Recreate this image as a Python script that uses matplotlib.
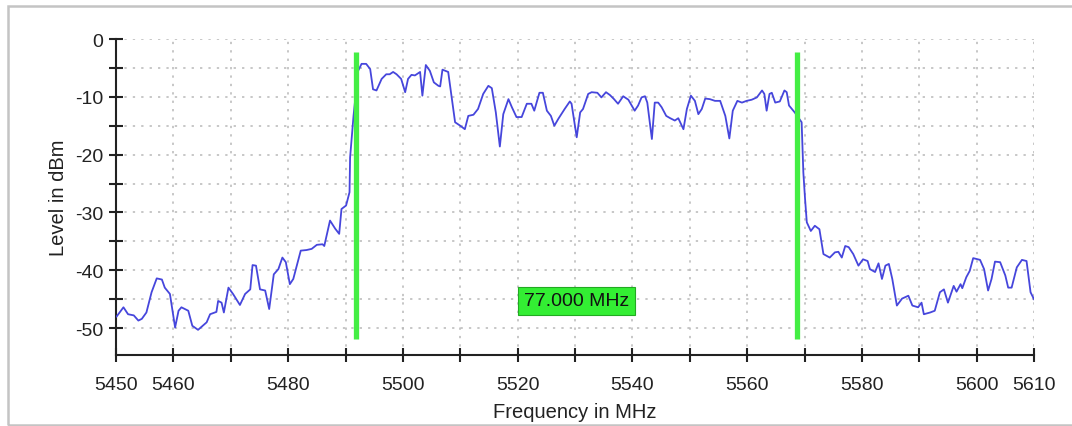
import numpy as np
import matplotlib
matplotlib.use('Agg')
import matplotlib.pyplot as plt
from matplotlib.patches import Rectangle

plt.rcParams['font.family'] = ['Liberation Sans', 'DejaVu Sans']
plt.rcParams['axes.unicode_minus'] = False

# spectrum trace (MHz, dBm)
freq = [5450.1, 5451.3, 5452.1, 5453.1, 5453.9, 5454.5, 5455.3, 5456.2, 5457.1, 5458.0,
        5458.5, 5459.4, 5460.3, 5460.9, 5461.4, 5462.6, 5463.3, 5464.3, 5465.1, 5465.8,
        5466.4, 5467.5, 5467.8, 5468.4, 5468.8, 5469.6, 5470.4, 5471.6, 5472.5, 5473.4,
        5473.8, 5474.4, 5475.1, 5476.0, 5476.7, 5477.5, 5478.3, 5479.0, 5479.6, 5480.3,
        5480.9, 5482.2, 5483.2, 5484.1, 5485.0, 5486.0, 5486.3, 5487.3, 5488.2, 5488.9,
        5489.3, 5490.1, 5490.7, 5490.8, 5491.4, 5492.2, 5492.8, 5493.6, 5494.3, 5494.8,
        5495.4, 5496.3, 5497.1, 5497.7, 5498.3, 5498.9, 5499.7, 5500.4, 5500.9, 5501.5,
        5502.1, 5503.0, 5503.4, 5504.0, 5504.7, 5505.4, 5506.2, 5506.5, 5506.9, 5507.9,
        5509.1, 5510.0, 5510.8, 5511.4, 5512.3, 5513.1, 5514.0, 5514.9, 5515.5, 5516.2,
        5516.9, 5517.5, 5518.4, 5519.0, 5519.8, 5520.7, 5521.6, 5522.4, 5522.9, 5523.8,
        5524.4, 5525.1, 5525.8, 5526.4, 5527.1, 5528.2, 5529.1, 5529.4, 5530.3, 5530.9,
        5531.4, 5532.3, 5532.9, 5533.9, 5534.6, 5535.4, 5536.1, 5536.8, 5537.5, 5538.4,
        5539.3, 5540.4, 5541.0, 5541.6, 5542.2, 5542.6, 5543.4, 5543.9, 5544.5, 5545.1,
        5545.9, 5546.6, 5547.4, 5548.0, 5548.9, 5549.5, 5550.2, 5550.9, 5551.5, 5552.1,
        5552.7, 5553.5, 5554.4, 5555.3, 5556.2, 5556.9, 5557.5, 5558.3, 5559.1, 5559.9,
        5560.8, 5561.7, 5562.6, 5563.0, 5563.4, 5563.9, 5564.3, 5564.9, 5565.7, 5566.5,
        5566.9, 5567.3, 5568.3, 5569.5, 5569.8, 5570.1, 5570.4, 5571.1, 5571.8, 5572.6,
        5573.3, 5574.4, 5575.3, 5575.9, 5576.5, 5577.1, 5577.7, 5578.5, 5579.4, 5580.2,
        5581.0, 5581.4, 5582.3, 5582.9, 5583.5, 5584.1, 5584.7, 5585.3, 5586.1, 5587.0,
        5588.1, 5588.8, 5589.8, 5590.4, 5590.8, 5591.9, 5592.7, 5593.6, 5594.3, 5595.0,
        5596.0, 5596.5, 5597.2, 5597.5, 5598.2, 5598.8, 5599.4, 5600.6, 5601.3, 5602.0,
        5602.6, 5603.2, 5604.1, 5605.0, 5605.5, 5606.1, 5607.0, 5607.9, 5608.7, 5609.4,
        5610.0]
level = [-48.0, -46.4, -47.6, -47.8, -48.7, -48.4, -47.3, -43.8, -41.4, -41.6,
         -43.0, -44.1, -49.9, -47.0, -46.4, -47.0, -49.6, -50.3, -49.6, -49.0,
         -47.6, -47.2, -45.3, -45.6, -47.3, -43.0, -44.1, -46.0, -44.1, -43.3,
         -39.1, -39.2, -43.3, -43.5, -46.7, -40.7, -39.8, -37.8, -38.6, -42.4,
         -41.5, -36.6, -36.5, -36.3, -35.6, -35.5, -35.8, -31.4, -32.8, -33.7,
         -29.4, -28.8, -26.5, -20.5, -13.3, -5.5, -4.3, -4.3, -5.2, -8.7,
         -8.9, -6.9, -6.1, -6.1, -5.7, -6.1, -6.9, -9.2, -6.9, -6.2,
         -6.3, -5.7, -9.8, -4.5, -5.5, -7.5, -8.1, -8.2, -5.3, -5.7,
         -14.4, -15.0, -15.6, -13.3, -13.1, -12.1, -9.5, -8.1, -8.5, -12.7,
         -18.6, -13.0, -10.4, -11.8, -13.5, -13.5, -11.2, -11.2, -12.4, -9.3,
         -9.3, -12.4, -13.3, -15.0, -13.8, -12.1, -10.8, -11.2, -17.0, -12.7,
         -12.1, -9.5, -9.2, -9.3, -10.1, -9.2, -9.7, -10.4, -11.2, -9.9,
         -10.5, -12.4, -11.5, -10.1, -9.9, -11.0, -17.3, -11.0, -11.0, -11.8,
         -13.3, -13.7, -14.1, -13.7, -15.6, -12.1, -9.8, -10.7, -13.0, -12.1,
         -10.3, -10.4, -10.7, -10.7, -13.3, -17.2, -12.4, -10.7, -11.0, -10.7,
         -10.5, -10.1, -8.9, -9.5, -12.4, -9.5, -9.3, -11.0, -10.8, -8.9,
         -9.2, -11.5, -12.7, -14.4, -23.1, -27.7, -31.7, -33.2, -32.3, -32.9,
         -37.2, -37.8, -36.9, -36.8, -37.8, -35.8, -36.0, -37.2, -39.2, -38.1,
         -38.4, -39.8, -40.3, -38.8, -41.5, -39.2, -38.9, -41.5, -46.1, -44.9,
         -44.4, -46.1, -46.4, -45.6, -47.6, -47.3, -47.0, -43.8, -43.3, -45.6,
         -42.7, -43.7, -42.4, -43.1, -41.2, -40.1, -37.9, -38.2, -39.8, -43.5,
         -41.5, -38.5, -38.6, -40.9, -43.0, -43.0, -39.5, -38.2, -38.4, -43.8,
         -45.0]

# markers
marker_freqs = [5491.75, 5568.75]
marker_top = -2.2
marker_bottom = -51.9
bandwidth_label = '77.000 MHz'
label_pos = (5530.3, -45.3)

xtick_vals = list(range(5450, 5611, 10))
xtick_labels = ['5450', '5460', '', '5480', '', '5500', '', '5520', '', '5540', '',
                '5560', '', '5580', '', '5600', '5610']

fig = plt.figure(figsize=(10.72, 4.27), dpi=100)
ax = fig.add_axes([116 / 1072, 1 - 355.7 / 427, (1034 - 116) / 1072, (355.7 - 40) / 427])

# gray frame around the plot
fig.patches.append(Rectangle((8 / 1072, 1 - 426 / 427), 1.1, (426 - 7) / 427,
                             transform=fig.transFigure, fill=False,
                             edgecolor='#c4c4c4', linewidth=1.8))

ax.plot(freq, level, color='#4646dc', linewidth=1.3, zorder=3)

for mf in marker_freqs:
    ax.plot([mf, mf], [marker_bottom, marker_top], color='#44ee44', linewidth=3.8,
            solid_capstyle='butt', zorder=4)

ax.text(label_pos[0], label_pos[1], bandwidth_label, fontsize=14, color='#111111',
        ha='center', va='center', zorder=5,
        bbox=dict(boxstyle='square,pad=0.3', facecolor='#33ee33', edgecolor='#22aa22',
                  linewidth=0.8))

ax.set_xlim(5450, 5610)
ax.set_ylim(-54.6, 0)

ax.set_xticks(xtick_vals)
ax.set_xticklabels(xtick_labels)
ax.set_yticks([0, -10, -20, -30, -40, -50])
ax.set_yticks([-5, -15, -25, -35, -45], minor=True)

ax.tick_params(axis='both', which='both', direction='inout', length=10, width=1.5,
               colors='#222222', labelsize=14, labelcolor='#222222')
ax.tick_params(axis='x', pad=10)
ax.tick_params(axis='y', pad=4)

ax.grid(True, which='both', color='#b8b8b8', linestyle=(0, (1.5, 4)), linewidth=1.1)
ax.set_axisbelow(True)

for s in ['top', 'right']:
    ax.spines[s].set_visible(False)
for s in ['left', 'bottom']:
    ax.spines[s].set_linewidth(1.5)
    ax.spines[s].set_color('#222222')

ax.set_xlabel('Frequency in MHz', fontsize=14.5, color='#222222', labelpad=7)
ax.set_ylabel('Level in dBm', fontsize=14.5, color='#222222', labelpad=5)

fig.savefig('out.png', dpi=100)
